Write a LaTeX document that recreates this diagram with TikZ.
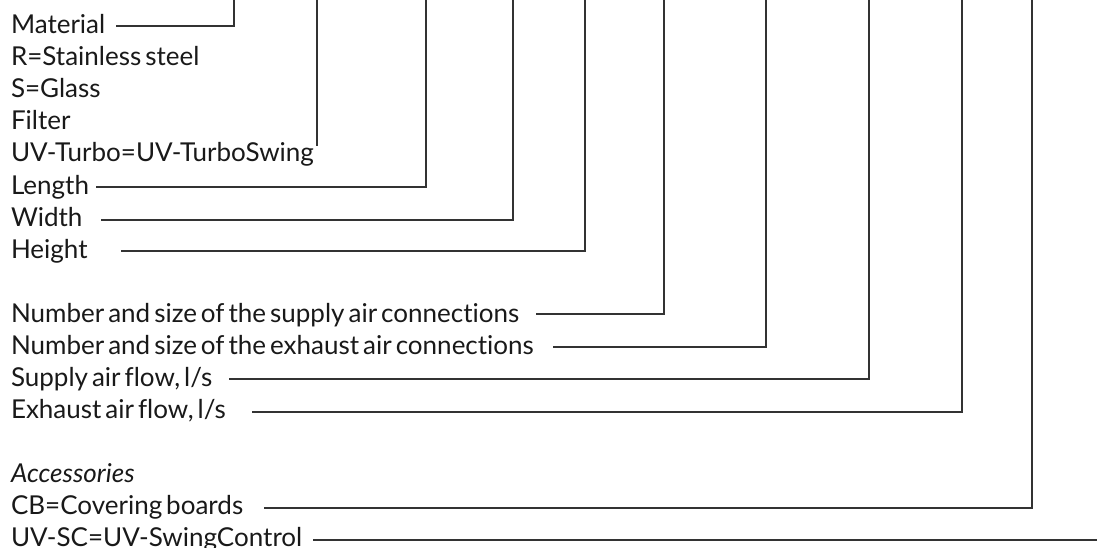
\documentclass[tikz,border=0pt]{standalone}
\usepackage{fontspec}
\setmainfont{Lato}[Ligatures=NoCommon,WordSpace=0.6]
\begin{document}
\begin{tikzpicture}[x=1pt,y=-1pt,
  lbl/.style={anchor=base west,inner sep=0pt,outer sep=0pt,text=black!90,
    font=\fontsize{26}{30}\selectfont},
  conn/.style={draw=black!80,line width=1.1pt,line cap=rect}]
\useasboundingbox (0,0) rectangle (1097,548);
% labels
\node[lbl] (mat)  at (11,34)  {Material};
\node[lbl] (rst)  at (11,66)  {R=Stainless steel};
\node[lbl] (sgl)  at (11,98)  {S=Glass};
\node[lbl] (fil)  at (11,130) {Filter};
\node[lbl] (uvt)  at (11,162) {UV-Turbo=UV-TurboSwing};
\node[lbl] (len)  at (11,194) {Length};
\node[lbl] (wid)  at (11,226) {Width};
\node[lbl] (hei)  at (11,258) {Height};
\node[lbl] (nsup) at (11,322) {Number and size of the supply air connections};
\node[lbl] (nexh) at (11,354) {Number and size of the exhaust air connections};
\node[lbl] (fsup) at (11,386) {Supply air flow, l/s};
\node[lbl] (fexh) at (11,418) {Exhaust air flow, l/s};
\node[lbl] (acc)  at (11,482) {\itshape Accessories};
\node[lbl] (cb)   at (11,514) {CB=Covering boards};
\node[lbl] (uvsc) at (11,546) {UV-SC=UV-SwingControl};
% connector ends
\coordinate (mat-s) at (117,26);  \coordinate (mat-t) at (234,0);
\coordinate (fil-s) at (317,145); \coordinate (fil-t) at (317,0);
\coordinate (len-s) at (97,187);  \coordinate (len-t) at (426,0);
\coordinate (wid-s) at (102,220); \coordinate (wid-t) at (513,0);
\coordinate (hei-s) at (122,251); \coordinate (hei-t) at (585,0);
\coordinate (nsup-s) at (537,314); \coordinate (nsup-t) at (664,0);
\coordinate (nexh-s) at (554,347); \coordinate (nexh-t) at (766,0);
\coordinate (fsup-s) at (230,379); \coordinate (fsup-t) at (869,0);
\coordinate (fexh-s) at (253,412); \coordinate (fexh-t) at (962,0);
\coordinate (cb-s) at (265,508);  \coordinate (cb-t) at (1032,0);
\coordinate (uvsc-s) at (314,540); \coordinate (uvsc-t) at (1097,540);
% connectors
\draw[conn] (mat-s) -| (mat-t);
\draw[conn] (fil-s) -- (fil-t);
\draw[conn] (len-s) -| (len-t);
\draw[conn] (wid-s) -| (wid-t);
\draw[conn] (hei-s) -| (hei-t);
\draw[conn] (nsup-s) -| (nsup-t);
\draw[conn] (nexh-s) -| (nexh-t);
\draw[conn] (fsup-s) -| (fsup-t);
\draw[conn] (fexh-s) -| (fexh-t);
\draw[conn] (cb-s) -| (cb-t);
\draw[conn] (uvsc-s) -- (uvsc-t);
\end{tikzpicture}
\end{document}
